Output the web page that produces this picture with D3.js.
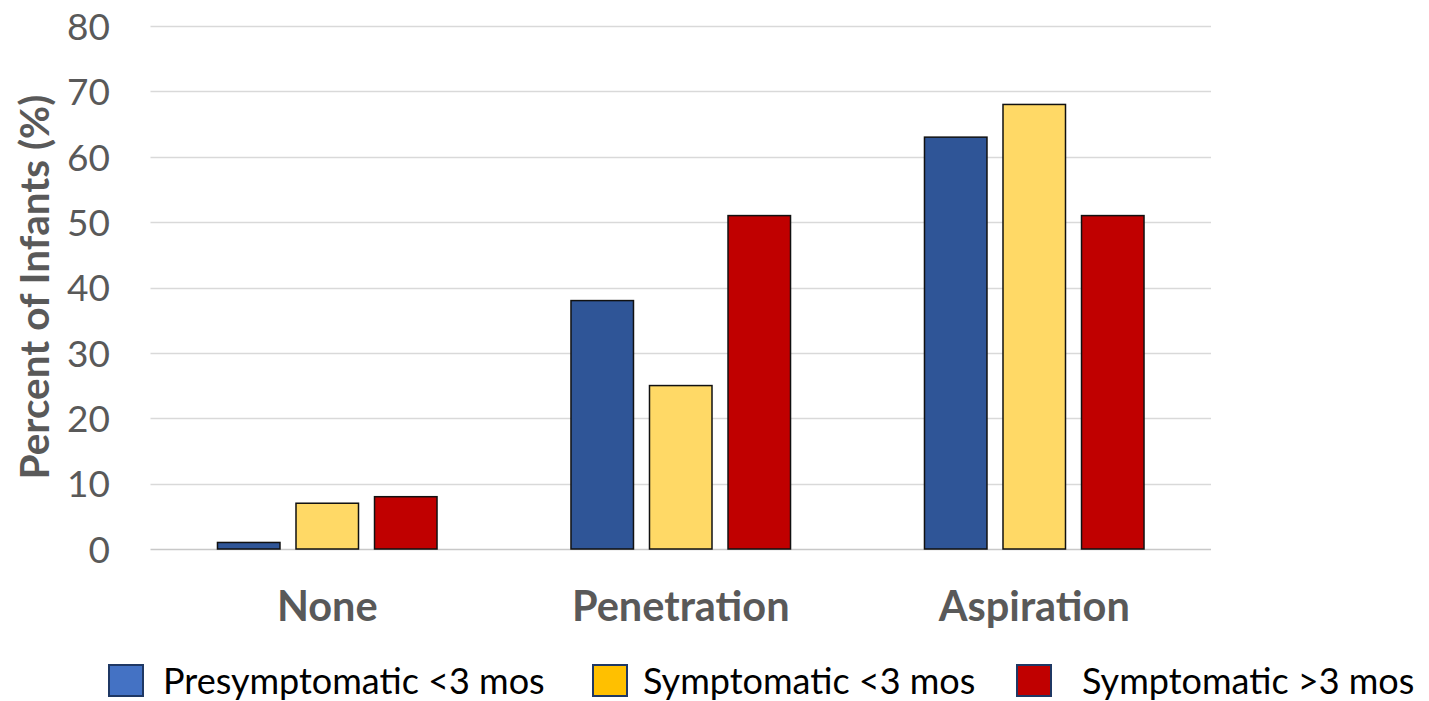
<!DOCTYPE html>
<html>
<head>
<meta charset="utf-8">
<script src="https://cdn.jsdelivr.net/npm/d3@7"></script>
<style>
  body { margin: 0; background: #fff; }
  text { font-family: Lato, "Open Sans", sans-serif; }
</style>
</head>
<body>
<div id="target"></div>
<script>
var categories = ["None", "Penetration", "Aspiration"];
var seriesNames = ["Presymptomatic <3 mos", "Symptomatic <3 mos", "Symptomatic >3 mos"];
var presymptomatic = [1, 38, 63];
var symptomaticUnder3 = [7, 25, 68];
var symptomaticOver3 = [8, 51, 51];
var yTicks = [0, 10, 20, 30, 40, 50, 60, 70, 80];

var WIDTH = 1429, HEIGHT = 701;
var barColors = ["#2F5597", "#FFD966", "#C00000"];
var legendColors = ["#4472C4", "#FFC000", "#C00000"];

var svg = d3.select("#target").append("svg").attr("width", WIDTH).attr("height", HEIGHT);

var seriesValues = [presymptomatic, symptomaticUnder3, symptomaticOver3];
var rows = categories.map(function(c, i) {
  return { cat: c, vals: seriesValues.map(function(s, j) { return { k: j, v: s[i] }; }) };
});

var y = d3.scaleLinear().domain([0, 80]).range([549, 26]);
var x0 = d3.scaleBand().domain(categories).range([150.5, 1211]).padding(0);
var x1 = d3.scaleBand().domain([0, 1, 2]).range([0, x0.bandwidth()])
  .paddingInner(0.204).paddingOuter(0.853);

// gridlines
svg.append("g")
  .selectAll("line")
  .data(yTicks)
  .enter()
  .append("line")
  .attr("x1", 150.5).attr("x2", 1211)
  .attr("y1", function(d) { return Math.round(y(d)) + 0.5; })
  .attr("y2", function(d) { return Math.round(y(d)) + 0.5; })
  .attr("stroke", function(d) { return d === 0 ? "#c8c8c8" : "#d9d9d9"; })
  .attr("stroke-width", 1.5);

// y tick labels
var yAxis = d3.axisLeft(y).tickValues(yTicks).tickSize(0).tickPadding(0);
var ya = svg.append("g").attr("transform", "translate(110,0)").call(yAxis);
ya.select(".domain").remove();
ya.selectAll("text")
  .attr("font-family", "Lato, sans-serif")
  .attr("font-size", 37)
  .attr("fill", "#595959")
  .attr("dy", "0.36em");

// bars
var groups = svg.selectAll("g.grp")
  .data(rows)
  .enter()
  .append("g")
  .attr("class", "grp")
  .attr("transform", function(d) { return "translate(" + x0(d.cat) + ",0)"; });

groups.selectAll("rect")
  .data(function(d) { return d.vals; })
  .enter()
  .append("rect")
  .attr("x", function(d) { return x1(d.k); })
  .attr("width", x1.bandwidth())
  .attr("y", function(d) { return y(d.v); })
  .attr("height", function(d) { return y(0) - y(d.v); })
  .attr("fill", function(d) { return barColors[d.k]; })
  .attr("stroke", "#111")
  .attr("stroke-width", 1.5);

// category labels
var xAxis = d3.axisBottom(x0).tickSize(0).tickPadding(0);
var xa = svg.append("g").attr("transform", "translate(0,606)").call(xAxis);
xa.select(".domain").remove();
xa.selectAll("text")
  .attr("font-family", "Lato, sans-serif")
  .attr("font-size", 41.5)
  .attr("font-weight", "bold")
  .attr("fill", "#595959")
  .attr("dy", "0.36em");

// axis title
svg.append("text")
  .attr("transform", "translate(34,287) rotate(-90)")
  .attr("text-anchor", "middle")
  .attr("dy", "0.36em")
  .attr("font-size", 40.5)
  .attr("font-weight", "bold")
  .attr("fill", "#595959")
  .text("Percent of Infants (%)");

// legend
var legendSquareX = [109, 593, 1017];
var legendTextX = [163, 643, 1082];
var leg = svg.append("g");
seriesNames.forEach(function(name, i) {
  leg.append("rect")
    .attr("x", legendSquareX[i]).attr("y", 665)
    .attr("width", 34).attr("height", 31)
    .attr("fill", legendColors[i])
    .attr("stroke", "#1F3864")
    .attr("stroke-width", 2);
  leg.append("text")
    .attr("x", legendTextX[i]).attr("y", 681)
    .attr("dy", "0.36em")
    .attr("font-size", 36)
    .attr("fill", "#000")
    .text(name);
});
</script>
</body>
</html>
